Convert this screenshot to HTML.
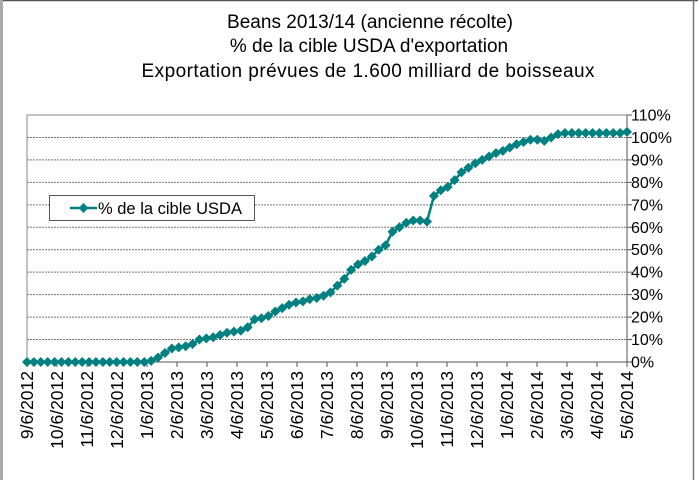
<!DOCTYPE html>
<html><head><meta charset="utf-8"><style>
html,body{margin:0;padding:0;background:#fff;}
svg{display:block;font-family:"Liberation Sans",Arial,sans-serif;}
</style></head><body>
<svg id="s" width="698" height="480" xmlns="http://www.w3.org/2000/svg">
<rect x="0" y="0" width="698" height="480" fill="#fff"/>
<line x1="0" y1="0.5" x2="698" y2="0.5" stroke="#555" stroke-width="1.5"/>
<line x1="1.5" y1="0" x2="1.5" y2="480" stroke="#aaa" stroke-width="3"/>
<line x1="693.5" y1="0" x2="693.5" y2="480" stroke="#777" stroke-width="1.5"/>
<text x="370" y="28" font-size="19" text-anchor="middle" textLength="286">Beans 2013/14 (ancienne récolte)</text>
<text x="369" y="52" font-size="19" text-anchor="middle">% de la cible USDA d'exportation</text>
<text x="368" y="77" font-size="19" text-anchor="middle" textLength="453">Exportation prévues de 1.600 milliard de boisseaux</text>
<g id="g"></g>
</svg>
<script>
var g=document.getElementById('g'),h='';
var L=27,R=627,T=115,B=362,st=(B-T)/11;
for(var k=1;k<=10;k++){var y=B-k*st;h+='<line x1="'+L+'" y1="'+y+'" x2="'+R+'" y2="'+y+'" stroke="#777" stroke-width="1" stroke-dasharray="2,1"/>';}
h+='<rect x="'+L+'" y="'+T+'" width="'+(R-L)+'" height="'+(B-T)+'" fill="none" stroke="#888" stroke-width="1"/>';
h+='<line x1="'+R+'" y1="'+T+'" x2="'+R+'" y2="'+B+'" stroke="#555"/>';
h+='<line x1="'+L+'" y1="'+B+'" x2="'+R+'" y2="'+B+'" stroke="#555"/>';
for(var k=0;k<=11;k++){var y=B-k*st;h+='<line x1="'+R+'" y1="'+y+'" x2="'+(R+5)+'" y2="'+y+'" stroke="#555"/>';
h+='<text x="'+(R+4)+'" y="'+(y+5.5)+'" font-size="16">'+(k*10)+'%</text>';}
var labs=['9/6/2012','10/6/2012','11/6/2012','12/6/2012','1/6/2013','2/6/2013','3/6/2013','4/6/2013','5/6/2013','6/6/2013','7/6/2013','8/6/2013','9/6/2013','10/6/2013','11/6/2013','12/6/2013','1/6/2014','2/6/2014','3/6/2014','4/6/2014','5/6/2014'];
for(var m=0;m<21;m++){var x=L+m*(R-L)/20;x=Math.round(x*10)/10;
h+='<line x1="'+x+'" y1="'+B+'" x2="'+x+'" y2="'+(B+5)+'" stroke="#555"/>';
h+='<text transform="translate('+(x+6)+',371) rotate(-90)" font-size="17.5" text-anchor="end">'+labs[m]+'</text>';}
var v=[0,0,0,0,0,0,0,0,0,0,0,0,0,0,0,0,0,0,0.5,2,4,6,6.5,7,8,10,10.5,11,12,13,13.5,14,15.5,19,19.5,20.5,22.5,24,25.5,26.5,27,28,28.5,29.5,31,34,37,41,43.5,45,47,50,52,58,60,62,63,63,62.5,74,76.5,78,81,84.5,86.5,88.5,90,91.5,93,94,95.5,97,98,99,99,98.5,100,101.5,102,102,102,102,102,102,102,102,102,102.5];
var dx=(R-L)/(v.length-1),pts=[];
for(var i=0;i<v.length;i++){pts.push([L+i*dx,B-v[i]*st/10]);}
h+='<polyline fill="none" stroke="#008080" stroke-width="2.5" points="'+pts.map(function(p){return p[0].toFixed(1)+','+p[1].toFixed(1)}).join(' ')+'"/>';
pts.forEach(function(p){var x=p[0],y=p[1];h+='<polygon fill="#008080" points="'+x+','+(y-5)+' '+(x+5)+','+y+' '+x+','+(y+5)+' '+(x-5)+','+y+'"/>';});
h+='<rect x="49.5" y="195.5" width="205" height="25" fill="#fff" stroke="#555"/>';
h+='<line x1="70" y1="208" x2="97" y2="208" stroke="#008080" stroke-width="2.5"/>';
h+='<polygon fill="#008080" points="83.5,203 88.5,208 83.5,213 78.5,208"/>';
h+='<text x="98" y="214" font-size="16.5">% de la cible USDA</text>';
g.innerHTML=h;
</script>
</body></html>
